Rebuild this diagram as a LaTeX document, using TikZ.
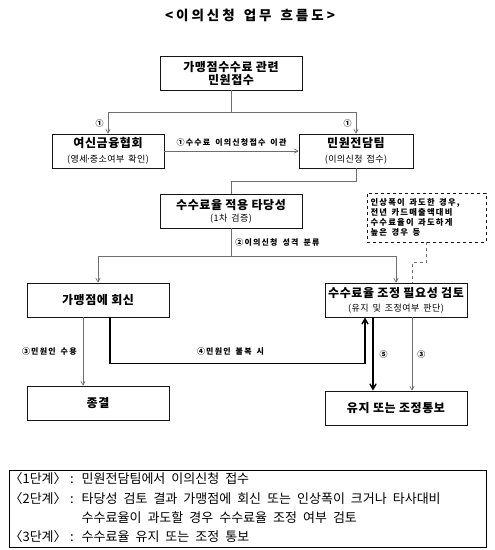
\documentclass[tikz,border=0pt]{standalone}
\usepackage{fontspec}
\usepackage{array}
\setmainfont{Noto Sans CJK KR}
\newfontfamily\boxfont[LetterSpace=5]{Noto Sans CJK KR}
\newfontfamily\wide[LetterSpace=15]{Noto Sans CJK KR}
\newfontfamily\wider[LetterSpace=22]{Noto Sans CJK KR}
\usetikzlibrary{positioning, arrows, calc}
\definecolor{Line-1}{RGB}{110,110,110}
\definecolor{Line-2}{RGB}{20,20,20}
\newcommand{\gap}[1]{\spaceskip=#1\relax}
\newcommand{\subfont}{\boxfont\fontsize{9}{10}\selectfont\mdseries\gap{4pt}}
\newcommand{\stagetag}[1]{\kern-.42em〈#1〉\kern-.35em}

\begin{document}
\begin{tikzpicture}[x=1pt,y=-1pt]
          \tikzset{ box/.style ={draw=Line-2, line width=0.8pt, minimum width=142pt, minimum height=34pt, align=center, inner sep=1pt, font=\boxfont\fontsize{12}{14}\selectfont\bfseries} }
          \tikzset{ elbl/.style={font={\wide\fontsize{8}{9}\selectfont\bfseries\gap{5pt}}, inner sep=1pt} }
          \tikzset{ note/.style={draw=Line-2, dashed, line width=0.7pt, text width=112pt, inner xsep=3.5pt, minimum height=49pt, align=left, font={\wide\fontsize{8.3}{10}\selectfont\bfseries}} }
          \tikzset{ ln/.style  ={draw=Line-1, line width=0.7pt} }
          \tikzset{ thk/.style ={draw=black, line width=1.4pt} }
          \useasboundingbox (0,0) rectangle (495,550);

          \node[font={\wider\fontsize{13.5}{16}\selectfont\bfseries\gap{9pt}}] (title) at (250,15) {<이의신청 업무 흐름도>};

          \node[box] (rcv)    at (231,73)  {가맹점수수료 관련\\[-1pt]민원접수};
          \node[box, minimum width=112pt] (assoc) at (108,151) {여신금융협회\\[1pt]{\subfont (영세\kern-.15em·\kern-.15em중소여부 확인)}};
          \node[box, minimum width=114pt] (team)  at (356,151) {민원전담팀\\[1pt]{\subfont (이의신청 접수)}};
          \node[box] (valid)  at (231,211) {수수료율 적용 타당성\\[-2pt]{\subfont (1차 검증)}};
          \node[box] (reply)  at (98,300)  {가맹점에 회신};
          \node[box] (review) at (396,300) {수수료율 조정 필요성 검토\\{\subfont (유지 및 조정여부 판단)}};
          \node[box] (close)  at (98,403)  {종결};
          \node[box] (notify) at (396,408) {유지 또는 조정통보};
          \node[note] (cond)  at (426.5,217.5) {\gap{4.5pt}인상폭이 과도한 경우,\\전년 카드매출액대비\\수수료율이 과도하게\\높은 경우 등};

          \draw[ln] (rcv.south) -- ++(0,22) coordinate (split1);
          \draw[ln,->,>=angle 60] (split1) -| (assoc.north) node [pos=0.75, left=3pt, elbl] {①};
          \draw[ln,->,>=angle 60] (split1) -| (team.north) node [pos=0.75, left=3pt, elbl] {①};
          \draw[ln,->,>=angle 60] (assoc) -- (team) node [midway, above=3pt, elbl] {①수수료 이의신청접수 이관};
          \draw[ln] (team.south) -- ++(0,13) -| (valid.north);

          \draw[ln] (valid.south) -- ++(0,28) coordinate (split2) node [midway, right=3pt, elbl] {②이의신청 성격 분류};
          \draw[ln,->,>=angle 60] (split2) -| (reply.north);
          \draw[ln,->,>=angle 60] (split2) -| (review.north);
          \draw[ln, dashed, line width=0.6pt] (cond.south) -- ++(0,20) -| ([xshift=16pt]review.north);

          \draw[ln,->,>=angle 60] ([xshift=-15pt]reply.south) -- ([xshift=-15pt]close.north) node [midway, left=5pt, elbl] {③민원인 수용};
          \draw[thk,->,>=angle 60] ([xshift=12pt]reply.south) -- ++(0,46) -| ([xshift=-31pt]review.south) node [pos=0.25, above=6pt, xshift=-7pt, elbl] {④민원인 불복 시};
          \draw[thk,->,>=angle 60] ([xshift=-23pt]review.south) -- ([xshift=-23pt]notify.north) node [midway, right=5pt, elbl] {⑤};
          \draw[ln,->,>=angle 60] ([xshift=16pt]review.south) -- ([xshift=16pt]notify.north) node [midway, right=4pt, elbl] {③};

          \node[draw=black, line width=0.8pt, text width=465pt, inner xsep=6pt, minimum height=76pt, inner ysep=0pt, font={\fontsize{13}{19.3}\selectfont}] (stage) at (247.5,509) {%
            \begin{tabular}{@{}l@{\hspace{8pt}}l@{\hspace{8pt}}>{\gap{6pt}}l@{}}
              \stagetag{1단계} & : & 민원전담팀에서 이의신청 접수\\
              \stagetag{2단계} & : & 타당성 검토 결과 가맹점에 회신 또는 인상폭이 크거나 타사대비\\
                      &   & 수수료율이 과도할 경우 수수료율 조정 여부 검토\\
              \stagetag{3단계} & : & 수수료율 유지 또는 조정 통보
            \end{tabular}};
\end{tikzpicture}
\end{document}
